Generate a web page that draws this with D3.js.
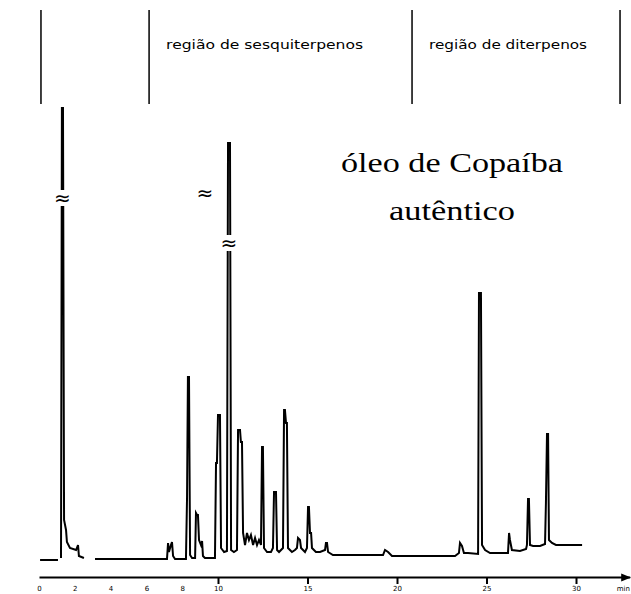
<!DOCTYPE html>
<html>
    <head>
        <meta charset="utf-8">
        <title>óleo de Copaíba autêntico</title>
        <script src="https://d3js.org/d3.v7.min.js"></script>
        <style>
            body { margin: 0; background: white; }
            svg { display: block; }
            .trace { fill: none; stroke: black; stroke-width: 2; stroke-linejoin: miter; }
            .region { font-family: 'DejaVu Sans', sans-serif; font-size: 12px; }
            .title { font-family: 'Liberation Serif', serif; font-size: 27px; }
        </style>
    </head>
<body>
    <svg></svg>
    <script>
        let width = 631, height = 594

        // retention time (min) and detector signal
        let times = [0.06, 1.06,
            null,
            1.23, 1.28, 1.34, 1.40, 1.51, 1.56, 1.73, 2.07, 2.18, 2.23, 2.51,
            null,
            3.13, 7.04, 7.15, 7.21, 7.26, 7.37, 7.43, 7.49, 7.60, 8.21, 8.27, 8.32, 8.38, 8.44, 8.55,
            8.72, 8.77, 8.83, 8.88, 8.94, 9.05, 9.11, 9.16, 9.27, 9.83, 9.89, 9.94, 10.00, 10.11,
            10.17, 10.34, 10.50, 10.56, 10.67, 10.73, 10.89, 11.06, 11.12, 11.23, 11.28, 11.34,
            11.40, 11.51, 11.62, 11.73, 11.84, 11.96, 12.07, 12.18, 12.29, 12.40, 12.46, 12.51,
            12.57, 12.74, 12.96, 13.07, 13.13, 13.24, 13.30, 13.41, 13.63, 13.69, 13.74, 13.80,
            13.85, 13.91, 14.13, 14.30, 14.41, 14.47, 14.58, 14.64, 14.86, 14.97, 15.03, 15.08,
            15.14, 15.20, 15.25, 15.47, 15.70, 15.98, 16.03, 16.09, 16.15, 16.42, 19.22, 19.33,
            19.50, 19.72, 23.24, 23.46, 23.52, 23.63, 23.74, 23.97, 24.53, 24.58, 24.69, 24.75,
            24.92, 25.20, 26.20, 26.26, 26.31, 26.42, 26.87, 27.21, 27.26, 27.32, 27.37, 27.43,
            27.60, 27.99, 28.27, 28.32, 28.38, 28.44, 28.49, 28.66, 28.88, 30.34]
        let signal = [0, 0,
            null,
            2, 452, 452, 40, 30, 18, 12, 10, 15, 4, 2,
            null,
            1, 1, 1, 17, 8, 15, 18, 4, 1, 1, 62, 183, 183, 5, 2,
            2, 47, 45, 45, 20, 15, 19, 4, 2, 2, 97, 97, 145, 145,
            12, 8, 9, 417, 417, 10, 8, 10, 130, 130, 118, 118,
            27, 15, 27, 20, 25, 15, 22, 15, 20, 15, 113, 113,
            12, 8, 8, 12, 68, 68, 10, 8, 12, 150, 150, 137,
            137, 12, 8, 10, 12, 22, 20, 12, 8, 12, 53, 53,
            27, 27, 12, 8, 8, 10, 17, 17, 8, 5, 5, 10,
            8, 4, 4, 7, 17, 14, 7, 7, 6, 267, 267, 15,
            10, 7, 7, 27, 20, 10, 9, 11, 15, 61, 61, 15,
            14, 14, 16, 57, 126, 126, 20, 17, 15, 15]

        // region boundaries (min) and their labels
        let regionBounds = [0.11, 6.15, 20.84, 32.46]
        let regionLabels = ["região de sesquiterpenos", "região de diterpenos"]
        let regionLabelWidths = [197, 158]

        // axis ticks
        let tickTimes = [0, 2, 4, 6, 8, 10, 15, 20, 25, 30]
        let tickLabels = ["0", "2", "4", "6", "8", "10", "15", "20", "25", "30"]

        // scale breaks drawn on the off-scale peaks: [time, signal]
        let breakTimes = [1.31, 10.61, 9.27]
        let breakLevels = [362, 317, 367]
        let breakOnLine = [true, true, false]

        let titleLines = ["óleo de Copaíba", "autêntico"]

        let svg = d3.select("svg")
            .attr("width", width)
            .attr("height", height)

        let x = d3.scaleLinear().domain([0, 33]).range([39, 629.7])
        let y = d3.scaleLinear().domain([0, 460]).range([560, 100])

        // arrow head for the time axis
        svg.append("defs").append("marker")
            .attr("id", "arrow")
            .attr("viewBox", "0 0 10 10")
            .attr("refX", 9).attr("refY", 5)
            .attr("markerWidth", 5).attr("markerHeight", 5)
            .attr("orient", "auto")
            .append("path")
            .attr("d", "M0,1 L10,5 L0,9 Z")
            .attr("fill", "black")

        // region separators + labels
        svg.append("g").selectAll("line")
            .data(regionBounds)
            .enter()
            .append("line")
            .attr("x1", d => x(d)).attr("x2", d => x(d))
            .attr("y1", 10).attr("y2", 104)
            .attr("stroke", "black")
            .attr("stroke-width", 1.5)

        svg.append("g").selectAll("text")
            .data(regionLabels)
            .enter()
            .append("text")
            .attr("class", "region")
            .attr("x", (d, i) => x(regionBounds[i + 1]) + 17)
            .attr("y", 49)
            .attr("textLength", (d, i) => regionLabelWidths[i])
            .attr("lengthAdjust", "spacingAndGlyphs")
            .text(d => d)

        // chromatogram trace
        let points = times.map((t, i) => [t, signal[i]])
        let line = d3.line()
            .defined(d => d[0] != null && d[1] != null)
            .x(d => x(d[0]))
            .y(d => y(d[1]))

        svg.append("path")
            .datum(points)
            .attr("class", "trace")
            .attr("d", line)

        // scale break marks
        let breaks = svg.append("g")
        breakTimes.forEach((t, i) => {
            if (breakOnLine[i]) {
                breaks.append("rect")
                    .attr("x", x(t) - 9).attr("y", y(breakLevels[i]) - 8)
                    .attr("width", 18).attr("height", 16)
                    .attr("fill", "white")
            }
            breaks.append("text")
                .attr("x", x(t))
                .attr("y", y(breakLevels[i]))
                .attr("dy", "0.35em")
                .attr("text-anchor", "middle")
                .style("font-family", "DejaVu Sans, sans-serif")
                .style("font-size", "20px")
                .text("≈")
        })

        // sample title
        svg.append("g").selectAll("text")
            .data(titleLines)
            .enter()
            .append("text")
            .attr("class", "title")
            .attr("x", 452)
            .attr("y", (d, i) => 172 + i * 48)
            .attr("text-anchor", "middle")
            .attr("textLength", (d, i) => i == 0 ? 222 : 126)
            .attr("lengthAdjust", "spacingAndGlyphs")
            .text(d => d)

        // time axis
        let axis = d3.axisBottom(x)
            .tickValues(tickTimes)
            .tickFormat((d, i) => tickLabels[i])
            .tickSize(7)
            .tickSizeOuter(0)
            .tickPadding(4)

        let ax = svg.append("g")
            .attr("transform", "translate(0,577)")
            .call(axis)
        ax.select(".domain")
            .attr("stroke-width", 2)
            .attr("marker-end", "url(#arrow)")
        ax.selectAll(".tick line")
            .attr("stroke-width", 2)
            .attr("y2", d => d < 10 ? 0 : 7)
        ax.selectAll(".tick text")
            .attr("y", 9)
            .style("font-family", "DejaVu Sans, sans-serif")
            .style("font-size", "7px")
        ax.append("text")
            .attr("x", 630).attr("y", 9).attr("dy", "0.71em")
            .attr("text-anchor", "end")
            .attr("fill", "black")
            .style("font-family", "DejaVu Sans, sans-serif")
            .style("font-size", "7px")
            .text("min")
    </script>
</body>
</html>
